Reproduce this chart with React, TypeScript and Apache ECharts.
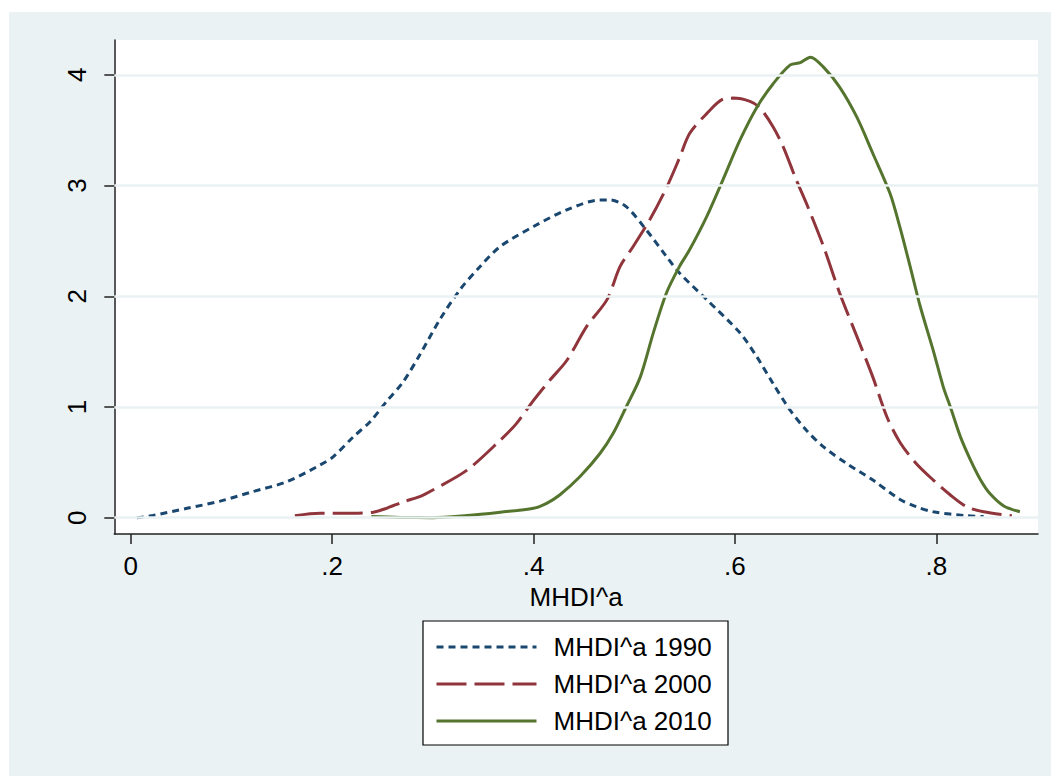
import React, { useEffect, useRef } from "react";
import * as echarts from "echarts";

const seriesNames = ["MHDI^a 1990", "MHDI^a 2000", "MHDI^a 2010"];
const seriesColors = ["#1a476f", "#90353b", "#55752f"];

const x1990 = [0.006, 0.022, 0.056, 0.089, 0.121, 0.155, 0.188, 0.201, 0.221, 0.238, 0.254, 0.27, 0.287, 0.307, 0.327, 0.347, 0.367, 0.4, 0.433, 0.466, 0.476, 0.492, 0.512, 0.532, 0.545, 0.572, 0.605, 0.622, 0.638, 0.655, 0.671, 0.688, 0.711, 0.737, 0.764, 0.78, 0.797, 0.83, 0.847];
const d1990 = [0, 0.02, 0.085, 0.15, 0.235, 0.325, 0.476, 0.55, 0.73, 0.87, 1.05, 1.22, 1.47, 1.79, 2.06, 2.27, 2.45, 2.63, 2.78, 2.87, 2.87, 2.81, 2.6, 2.36, 2.21, 1.97, 1.67, 1.45, 1.21, 0.97, 0.79, 0.64, 0.49, 0.34, 0.165, 0.1, 0.054, 0.018, 0.01];

const x2000 = [0.163, 0.188, 0.221, 0.241, 0.254, 0.271, 0.287, 0.3, 0.334, 0.367, 0.383, 0.4, 0.416, 0.433, 0.453, 0.473, 0.486, 0.499, 0.516, 0.532, 0.545, 0.555, 0.572, 0.588, 0.598, 0.615, 0.625, 0.638, 0.648, 0.661, 0.671, 0.688, 0.704, 0.721, 0.737, 0.751, 0.764, 0.78, 0.797, 0.814, 0.83, 0.847, 0.875];
const d2000 = [0.018, 0.04, 0.04, 0.05, 0.085, 0.145, 0.19, 0.25, 0.43, 0.7, 0.85, 1.06, 1.24, 1.42, 1.73, 1.97, 2.27, 2.45, 2.7, 2.98, 3.25, 3.47, 3.65, 3.78, 3.79, 3.76, 3.7, 3.53, 3.35, 3.05, 2.84, 2.45, 2.03, 1.64, 1.27, 0.91, 0.68, 0.49, 0.34, 0.205, 0.1, 0.054, 0.018];

const x2010 = [0.239, 0.268, 0.3, 0.334, 0.367, 0.4, 0.413, 0.426, 0.446, 0.466, 0.479, 0.492, 0.506, 0.519, 0.532, 0.545, 0.555, 0.572, 0.588, 0.605, 0.622, 0.638, 0.655, 0.665, 0.675, 0.688, 0.704, 0.721, 0.737, 0.754, 0.764, 0.774, 0.784, 0.797, 0.807, 0.814, 0.824, 0.834, 0.844, 0.853, 0.867, 0.883];
const d2010 = [0.01, 0.003, 0, 0.02, 0.05, 0.085, 0.13, 0.205, 0.37, 0.58, 0.76, 1.0, 1.27, 1.67, 2.03, 2.27, 2.42, 2.72, 3.05, 3.41, 3.71, 3.92, 4.09, 4.11, 4.16, 4.07, 3.89, 3.62, 3.29, 2.93, 2.62, 2.27, 1.91, 1.51, 1.18, 1.0, 0.73, 0.52, 0.34, 0.22, 0.106, 0.054];

const xTicks = [0, 0.2, 0.4, 0.6, 0.8];
const yTicks = [0, 1, 2, 3, 4];
const xTitle = "MHDI^a";

const zip = (xs: number[], ys: number[]) => xs.map((x, i) => [x, ys[i]]);

export default function App() {
  const ref = useRef<HTMLDivElement>(null);
  useEffect(() => {
    if (!ref.current) return;
    const chart = echarts.init(ref.current, null, { renderer: "svg" });
    const font = "'Liberation Sans', Arial, sans-serif";
    const dashes: any[] = [[7, 5], [30, 8], "solid"];
    const xs = [x1990, x2000, x2010];
    const ds = [d1990, d2000, d2010];
    chart.setOption({
      animation: false,
      backgroundColor: "#eaf2f3",
      textStyle: { fontFamily: font },
      grid: { left: 105.3, top: 28, right: 13, bottom: 242, containLabel: false, show: true, backgroundColor: "#ffffff", borderWidth: 0 },
      xAxis: {
        type: "value",
        min: -0.0163,
        max: 0.901,
        name: xTitle,
        nameLocation: "middle",
        nameGap: 33,
        nameTextStyle: { color: "#000", fontSize: 26, fontFamily: font },
        axisLine: { show: true, onZero: false, lineStyle: { color: "#222", width: 1.5 } },
        axisTick: { show: true, length: 10, customValues: xTicks, lineStyle: { color: "#222", width: 1.5 } },
        axisLabel: {
          customValues: xTicks,
          margin: 19,
          color: "#000",
          fontSize: 26,
          fontFamily: font,
          formatter: (v: number) => (v === 0 ? "0" : String(Number(v.toFixed(2))).replace(/^0/, "")),
        },
        splitLine: { show: false },
      },
      yAxis: {
        type: "value",
        min: -0.147,
        max: 4.315,
        axisLine: { show: true, onZero: false, lineStyle: { color: "#222", width: 1.5 } },
        axisTick: { show: true, length: 10, customValues: yTicks, lineStyle: { color: "#222", width: 1.5 } },
        axisLabel: {
          customValues: yTicks,
          rotate: 90,
          margin: 24,
          color: "#000",
          fontSize: 26,
          fontFamily: font,
          formatter: (v: number) => String(v),
        },
        splitLine: { show: false },
      },
      legend: {
        data: seriesNames,
        orient: "vertical",
        left: 426,
        top: 620,
        padding: 0,
        itemWidth: 100,
        itemHeight: 14,
        itemGap: 7,
        itemStyle: { opacity: 0 },
        lineStyle: { width: 3 },
        textStyle: { color: "#000", fontSize: 26, lineHeight: 30, fontFamily: font, padding: [0, 0, 0, 12] },
      },
      graphic: [
        { type: "rect", z: 0, shape: { x: 414, y: 609, width: 305, height: 124 }, style: { fill: "#ffffff", stroke: "#000", lineWidth: 1.2 } },
      ],
      series: [
        {
          type: "line",
          name: "grid",
          data: [],
          z: 1,
          silent: true,
          markLine: {
            silent: true,
            symbol: "none",
            label: { show: false },
            lineStyle: { color: "#eaf2f3", width: 2.5, type: "solid" },
            data: yTicks.map((v) => ({ yAxis: v })),
          },
        },
        ...seriesNames.map((name, i) => ({
          type: "line",
          name,
          data: zip(xs[i], ds[i]),
          showSymbol: false,
          symbol: "none",
          smooth: 0.3,
          z: 3,
          color: seriesColors[i],
          lineStyle: { color: seriesColors[i], width: 3, type: dashes[i] },
        })),
      ],
    });
    return () => chart.dispose();
  }, []);
  return <div ref={ref} style={{ position: "absolute", left: 9, top: 12, width: 1042, height: 764 }} />;
}
